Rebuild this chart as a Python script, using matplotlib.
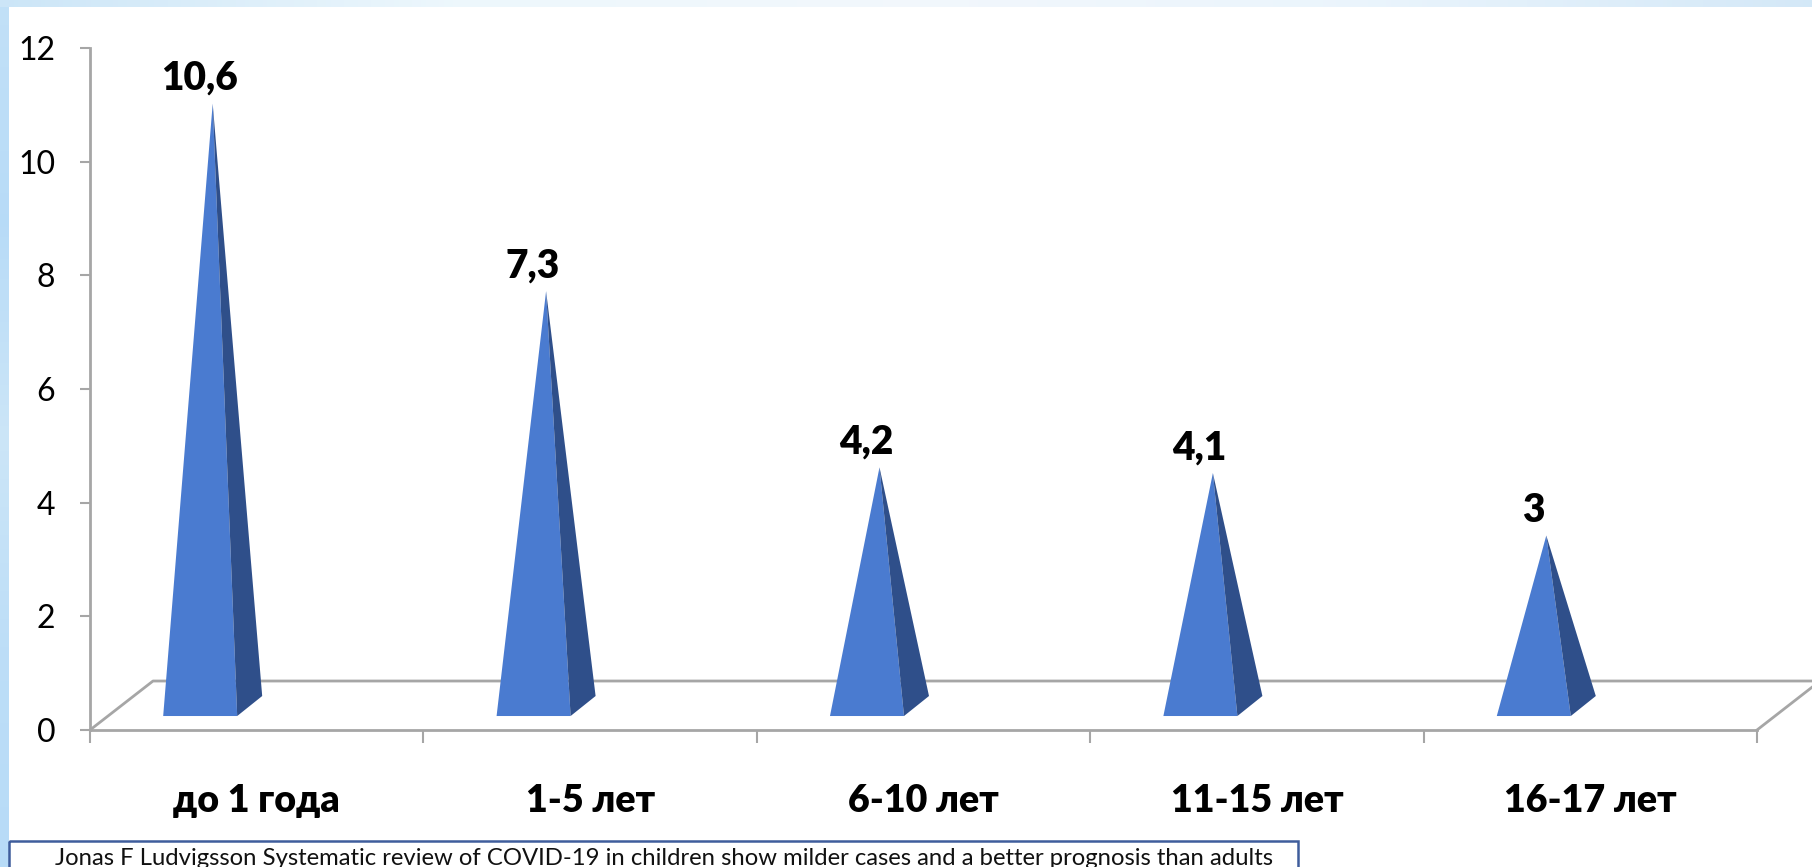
import matplotlib
matplotlib.use("Agg")
import matplotlib.pyplot as plt
import numpy as np
from matplotlib.patches import Polygon, Rectangle

plt.rcParams['font.family'] = ['Lato', 'DejaVu Sans']

# data
categories = ["до 1 года", "1-5 лет", "6-10 лет", "11-15 лет", "16-17 лет"]
values = [10.6, 7.3, 4.2, 4.1, 3]
value_labels = ["10,6", "7,3", "4,2", "4,1", "3"]
y_ticks = [0, 2, 4, 6, 8, 10, 12]
source = ("Jonas F Ludvigsson Systematic review of COVID-19 in children show "
          "milder cases and a better prognosis than adults")

W, H = 1812, 867
fig = plt.figure(figsize=(W / 100, H / 100), dpi=100)
fig.patch.set_facecolor("white")

# light blue slide frame (left strip + top band)
bg = fig.add_axes([0, 0, 1, 1], zorder=-5)
bg.set_xlim(0, W)
bg.set_ylim(H, 0)
bg.axis("off")
top = np.array([[0.80, 0.90, 0.97], [0.93, 0.97, 0.99], [0.95, 0.97, 0.99],
                [0.92, 0.96, 0.99], [0.83, 0.91, 0.97]])
grad = np.array([np.interp(np.linspace(0, 1, 400), np.linspace(0, 1, 5), top[:, k])
                 for k in range(3)]).T[None, :, :]
bg.imshow(grad, extent=(0, W, 7, 0), aspect="auto")
side = np.array([[0.76, 0.88, 0.97], [0.72, 0.86, 0.97], [0.80, 0.90, 0.97],
                 [0.74, 0.87, 0.97], [0.72, 0.86, 0.97]])
sgrad = np.array([np.interp(np.linspace(0, 1, 300), np.linspace(0, 1, 5), side[:, k])
                  for k in range(3)]).T[:, None, :]
bg.imshow(sgrad, extent=(0, 9, H, 7), aspect="auto")

# caption box
bg.add_patch(Rectangle((9, 841), 1289, 40, fill=False, edgecolor="#3f5d9c", lw=1.8))
bg.text(55, 865, source, fontsize=17.2, color="#111111", va="baseline", ha="left")

# main chart axes
x0, x1, ytop, ybot = 90, 1757, 48, 730
ax = fig.add_axes([x0 / W, (H - ybot) / H, (x1 - x0) / W, (ybot - ytop) / H])
ax.set_xlim(-0.5, len(categories) - 0.5)
ax.set_ylim(0, 12)
ax.patch.set_alpha(0)

grey = "#a6a6a6"
for s in ["top", "right"]:
    ax.spines[s].set_visible(False)
ax.spines["left"].set_color(grey)
ax.spines["bottom"].set_color(grey)
ax.spines["left"].set_linewidth(2)
ax.spines["bottom"].set_linewidth(2)

ax.set_yticks(y_ticks)
ax.set_yticklabels([str(t) for t in y_ticks], fontsize=23)
ax.tick_params(axis="y", length=7, width=1.5, color=grey, pad=18)

xs = np.arange(len(categories))
ax.set_xticks(xs)
ax.set_xticklabels(categories, fontsize=27, fontweight="heavy")
ax.set_xticks(np.arange(len(categories) + 1) - 0.5, minor=True)
ax.tick_params(axis="x", which="major", length=0, pad=39)
ax.tick_params(axis="x", which="minor", length=9.5, width=1.5, color=grey)

# 3d floor outline
fdx, fdy = 0.189, 0.862
xl, xr = -0.5, len(categories) - 0.5
ax.plot([xl, xl + fdx, xr + fdx, xr], [0, fdy, fdy, 0], color=grey, lw=2,
        clip_on=False, zorder=1)

# pyramids
dx, dy = -0.132, 0.422      # base centre relative to category
hw = 0.111                  # half width of base
ddx, ddy = 0.075, 0.352     # depth of base
for i, v in enumerate(values):
    bx, by = xs[i] + dx, dy
    fl = (bx - hw - ddx / 2, by - ddy / 2)
    fr = (bx + hw - ddx / 2, by - ddy / 2)
    br = (bx + hw + ddx / 2, by + ddy / 2)
    apex = (bx, by + v)
    ax.add_patch(Polygon([fl, fr, apex], closed=True, facecolor="#4a7bd0",
                         edgecolor="none", zorder=3, clip_on=False))
    ax.add_patch(Polygon([fr, br, apex], closed=True, facecolor="#2f4f8a",
                         edgecolor="none", zorder=3, clip_on=False))
    ax.annotate(value_labels[i], xy=apex, xytext=(-9.5, 10), textcoords="offset points",
                ha="center", va="baseline", fontsize=28, fontweight="heavy",
                color="black", annotation_clip=False)

fig.savefig("out.png", dpi=100)
